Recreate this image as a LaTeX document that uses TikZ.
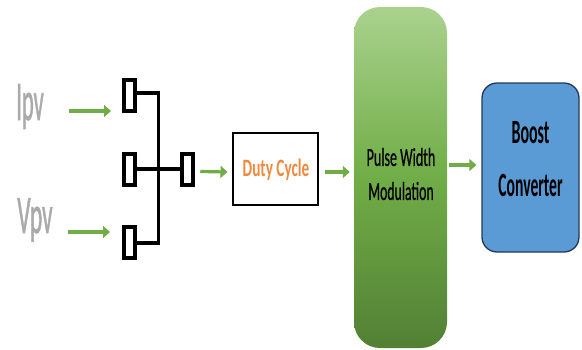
\documentclass[tikz,border=0pt]{standalone}
\usepackage{fontspec}
\setmainfont{Carlito}
\newfontfamily\heavyfont[FakeBold=1.6]{Carlito}
\newfontfamily\medfont[FakeBold=0.8]{Carlito}
\usepackage{graphicx}
\usetikzlibrary{arrows.meta}
\definecolor{arrgreen}{RGB}{112,173,71}
\definecolor{lblgray}{RGB}{170,170,170}
\definecolor{dutyorange}{RGB}{240,137,62}
\definecolor{pwmtop}{RGB}{170,210,142}
\definecolor{pwmmid}{RGB}{112,173,71}
\definecolor{pwmbot}{RGB}{82,128,52}
\definecolor{boostfill}{RGB}{91,155,213}
\definecolor{boostline}{RGB}{38,55,90}
\newcommand\sqz[2]{\scalebox{#1}[1]{#2}}
\tikzset{
  garrow/.style={draw=arrgreen, line width=3.2pt, -{Triangle[length=7pt,width=12pt]}},
  smallbox/.style={draw=black, line width=4pt, minimum width=11.5pt, minimum height=31pt, inner sep=0pt, fill=white},
  hwire/.style={draw=black, line width=4.5pt},
  vwire/.style={draw=black, line width=3pt},
  inlbl/.style={lblgray, inner sep=0pt, anchor=base},
}
\begin{document}
\begin{tikzpicture}[x=1pt,y=-1pt]
\useasboundingbox (0,0) rectangle (582,349);
% labels
\node[inlbl] (ipv) at (30,120) {\heavyfont\fontsize{56}{56}\selectfont\sqz{0.40}{Ipv}};
\node[inlbl] (vpv) at (35,233) {\heavyfont\fontsize{54}{54}\selectfont\sqz{0.43}{Vpv}};
% small boxes
\node[smallbox] (b1) at (129.5,95.5) {};
\node[smallbox] (b2) at (129.5,169) {};
\node[smallbox] (b3) at (129.5,242.5) {};
\node[smallbox] (b4) at (187.5,169.5) {};
\coordinate (jt) at (158,93);
\coordinate (jb) at (158,243);
\coordinate (jm) at (158,169);
\coordinate (a1s) at (69,111);
\coordinate (a1e) at (111,111);
\coordinate (a2s) at (68,232);
\coordinate (a2e) at (110,232);
% duty box
\node[draw=black, line width=2pt, minimum width=85pt, minimum height=72pt, inner sep=0pt] (duty) at (275,168.5) {};
\node[dutyorange, inner sep=0pt] (dutyt) at (276,170) {\fontsize{25}{25}\selectfont\bfseries\sqz{0.61}{Duty Cycle}};
% PWM
\node[rounded corners=26pt, minimum width=93pt, minimum height=341pt, inner sep=0pt,
      top color=pwmtop, bottom color=pwmbot, middle color=pwmmid] (pwm) at (400.5,177.5) {};
\node[align=center, inner sep=0pt, font=\medfont\fontsize{26}{34}\selectfont] (pwmt) at (401,174) {\sqz{0.54}{Pulse Width}\\\sqz{0.53}{Modulation}};
% Boost
\node[draw=boostline, line width=1.3pt, fill=boostfill, rounded corners=15pt, minimum width=97pt, minimum height=169pt, inner sep=0pt] (boost) at (530.5,167.5) {};
\node[align=center, inner sep=0pt, font=\fontsize{34}{53}\selectfont\bfseries] (boostt) at (530.5,159) {\sqz{0.47}{Boost}\\\sqz{0.46}{Converter}};
% wires
\draw[hwire] ([xshift=-1pt]b1.east |- jt) -- ([xshift=1.5pt]jt);
\draw[hwire] ([xshift=-1pt]b3.east |- jb) -- ([xshift=1.5pt]jb);
\draw[vwire] (jt) -- (jb);
\draw[hwire] (b2.east |- jm) -- (b4.west |- jm);
% arrows
\draw[garrow] (a1s) -- (a1e);
\draw[garrow] (a2s) -- (a2e);
\draw[garrow] ([xshift=5pt,yshift=-2pt]b4.east) -- ([xshift=-4pt,yshift=-3.5pt]duty.west);
\draw[garrow] ([xshift=6pt,yshift=-3.5pt]duty.east) -- ([xshift=-4pt,yshift=-3.5pt]duty.east -| pwm.west);
\draw[garrow] ([xshift=2pt]pwm.east |- 0,165) -- ([xshift=-5pt]boost.west |- 0,165);
\end{tikzpicture}
\end{document}
